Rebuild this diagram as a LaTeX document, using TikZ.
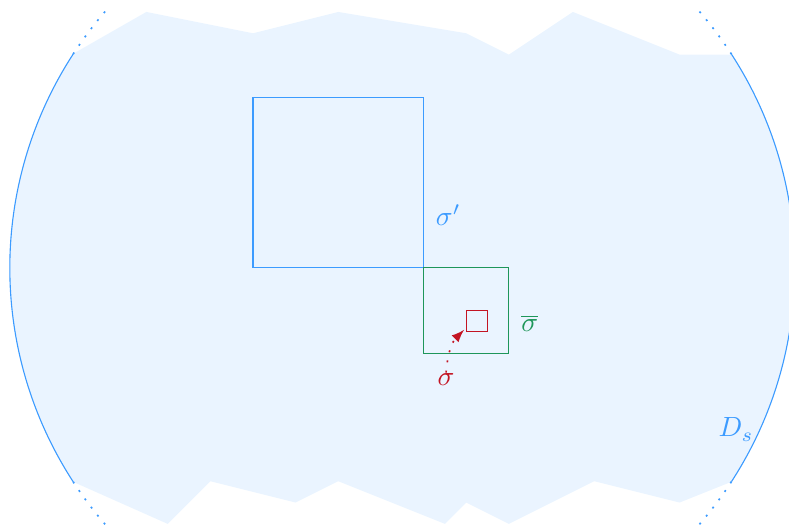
\documentclass[tikz,border=0pt]{standalone}
\usetikzlibrary{arrows}
\definecolor{dsblue}{RGB}{60,155,255}
\definecolor{dsfill}{RGB}{234,244,255}
\definecolor{bargreen}{RGB}{30,150,90}
\definecolor{sigred}{RGB}{195,20,35}
\tikzset{
  looselydots/.style={line width=0.6pt,dash pattern=on 0.7pt off 3pt},
  lbl/.style={anchor=base west,inner sep=0pt}
}
\begin{document}
\begin{tikzpicture}[x=0.27cm,y=0.27cm]
            \useasboundingbox (-11.86,-12.05) rectangle (25.13,12.56);
            % shaded part of the disc
            \begin{scope}
            \clip (7,0) circle (18.4);
            \fill[dsfill]
            (-12,8) -- (-5,12) -- (0,11) -- (4,12) -- (10,11) -- (12,10)
            -- (15,12) -- (20,10) -- (26,10) -- (25,-9) -- (20,-11)
            -- (16,-10) -- (12,-12) -- (10,-11) -- (9,-12) -- (4,-10)
            -- (2,-11) -- (-2,-10) -- (-4,-12) -- (-13,-8) -- cycle;
            \end{scope}
            % boundary of D_s
            \draw[dsblue]
            (7,0) ++(-33:18.4) arc (-33:33:18.4)
            (7,0) ++(147:18.4) arc (147:213:18.4)
            ;
            \draw[dsblue,looselydots]
            (7,0) ++(33:18.4) arc (33:41:18.4)
            (7,0) ++(-33:18.4) arc (-33:-41:18.4)
            (7,0) ++(147:18.4) arc (147:139:18.4)
            (7,0) ++(213:18.4) arc (213:221:18.4)
            ;
            % cubes
            \draw[dsblue] (0,0) rectangle (8,8);
            \draw[bargreen] (8,0) rectangle (12,-4);
            \draw[sigred] (10,-2) rectangle (11,-3);
            \coordinate (redsw) at (9.9,-2.9);
            % labels
            \node[lbl,dsblue] (sigp) at (8.55,2.0) {$\sigma'$};
            \node[lbl,bargreen] (sigbar) at (12.56,-3.0) {$\overline{\sigma}$};
            \node[lbl,sigred] (sig) at (8.63,-5.49) {$\sigma$};
            \node[lbl,dsblue] (ds) at (21.8,-7.92) {$D_s$};
            \draw[sigred,looselydots,-latex]
            (sig.north) to[out=85,in=225] (redsw);
        \end{tikzpicture}
\end{document}
